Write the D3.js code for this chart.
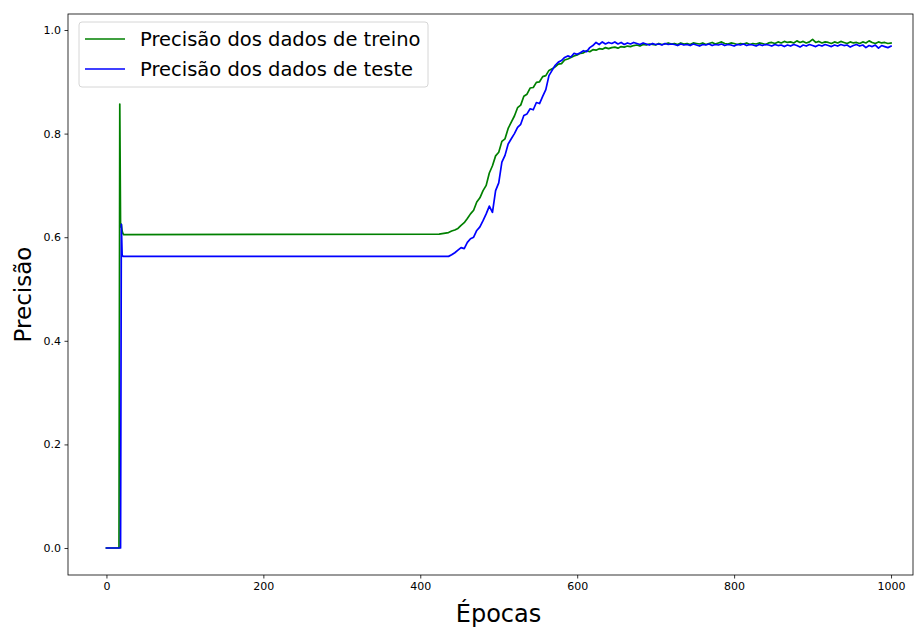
<!DOCTYPE html>
<html>
<head>
<meta charset="utf-8">
<script src="https://cdn.jsdelivr.net/npm/d3@7"></script>
<style>
  body { margin: 0; background: #fff; }
  svg { display: block; }
  text { font-family: "DejaVu Sans", sans-serif; }
</style>
</head>
<body>
<svg id="chart" width="917" height="628"></svg>
<script>
// Accuracy per epoch. The early part is sparse (the curves are flat there),
// the later part is sampled every 4 epochs from 428 to 1000.
const earlyEpochs = [0, 16, 17, 18, 19, 20, 21, 22, 424];
const earlyTrain  = [0, 0, 0.857, 0.620, 0.625, 0.612, 0.607, 0.605, 0.606];
const earlyTest   = [0, 0, 0, 0, 0.625, 0.566, 0.563, 0.563, 0.563];

const lateStart = 428, lateStep = 4;
const lateTrain = [
  0.607, 0.608, 0.609, 0.612, 0.614, 0.617, 0.623, 0.628, 0.636, 0.645,
  0.652, 0.668, 0.676, 0.690, 0.700, 0.724, 0.738, 0.757, 0.764, 0.785,
  0.790, 0.810, 0.822, 0.834, 0.850, 0.855, 0.872, 0.876, 0.888, 0.889,
  0.899, 0.900, 0.910, 0.912, 0.922, 0.925, 0.929, 0.934, 0.935, 0.942,
  0.944, 0.947, 0.950, 0.952, 0.955, 0.956, 0.960, 0.958, 0.962, 0.961,
  0.964, 0.963, 0.966, 0.964, 0.966, 0.967, 0.965, 0.968, 0.967, 0.969,
  0.968, 0.970, 0.971, 0.969, 0.972, 0.971, 0.973, 0.972, 0.971, 0.974,
  0.972, 0.973, 0.975, 0.973,
  0.974, 0.972, 0.975, 0.973, 0.974, 0.972, 0.975, 0.974, 0.973, 0.975,
  0.972, 0.974, 0.976, 0.973, 0.975, 0.977, 0.974, 0.973, 0.975, 0.974,
  0.972, 0.974, 0.973, 0.975, 0.972, 0.974, 0.973, 0.975, 0.974, 0.972,
  0.975, 0.976, 0.974, 0.977, 0.975, 0.978, 0.976, 0.977, 0.975, 0.979,
  0.976, 0.978, 0.975, 0.977, 0.982, 0.976, 0.978, 0.975, 0.977, 0.976,
  0.974, 0.977, 0.975, 0.978, 0.976, 0.974, 0.977, 0.975, 0.976, 0.974,
  0.977, 0.975, 0.979, 0.976, 0.974, 0.977, 0.975, 0.976, 0.974, 0.975
];
const lateTest = [
  0.563, 0.563, 0.563, 0.566, 0.570, 0.575, 0.580, 0.578, 0.590, 0.597,
  0.600, 0.613, 0.620, 0.632, 0.645, 0.660, 0.648, 0.690, 0.705, 0.745,
  0.758, 0.780, 0.790, 0.800, 0.812, 0.818, 0.835, 0.838, 0.848, 0.846,
  0.860, 0.858, 0.872, 0.885, 0.912, 0.922, 0.932, 0.938, 0.941, 0.947,
  0.950, 0.948, 0.955, 0.953, 0.956, 0.960, 0.958, 0.966, 0.970, 0.976,
  0.972, 0.977, 0.973, 0.976, 0.974, 0.977, 0.973, 0.976, 0.972, 0.975,
  0.973, 0.976, 0.974, 0.972, 0.975, 0.973, 0.971, 0.974, 0.972, 0.973,
  0.971, 0.974, 0.972, 0.973,
  0.972, 0.970, 0.973, 0.971, 0.972, 0.970, 0.973, 0.971, 0.969, 0.972,
  0.971, 0.973, 0.970, 0.972, 0.971, 0.973, 0.970, 0.972, 0.971, 0.969,
  0.972, 0.971, 0.973, 0.970, 0.972, 0.971, 0.969, 0.972, 0.970, 0.972,
  0.971, 0.969, 0.972, 0.970, 0.971, 0.968, 0.971, 0.969, 0.972, 0.970,
  0.967, 0.971, 0.969, 0.972, 0.970, 0.968, 0.971, 0.969, 0.972, 0.970,
  0.968, 0.971, 0.969, 0.972, 0.970, 0.971, 0.967, 0.970, 0.972, 0.969,
  0.971, 0.966, 0.970, 0.968, 0.971, 0.965, 0.970, 0.968, 0.966, 0.969
];

const xTicks = [0, 200, 400, 600, 800, 1000];
const yTicks = [0.0, 0.2, 0.4, 0.6, 0.8, 1.0];
const seriesNames = ["Precisão dos dados de treino", "Precisão dos dados de teste"];
const seriesColors = ["#008000", "#0000ff"];
const xLabel = "Épocas";
const yLabel = "Precisão";

// Build [epoch, value] rows for both series.
const lateEpochs = lateTrain.map((_, i) => lateStart + i * lateStep);
const epochs = earlyEpochs.concat(lateEpochs);
const trainRows = epochs.map((e, i) => [e, earlyTrain.concat(lateTrain)[i]]);
const testRows  = epochs.map((e, i) => [e, earlyTest.concat(lateTest)[i]]);

// Plot frame
const frame = { left: 68, right: 913, top: 14, bottom: 575 };
const x = d3.scaleLinear().domain([-49, 1028]).range([frame.left, frame.right]);
const y = d3.scaleLinear().domain([-0.0521, 1.0309]).range([frame.bottom, frame.top]);

const svg = d3.select("#chart");

svg.append("defs").append("clipPath").attr("id", "plot-clip")
  .append("rect")
  .attr("x", frame.left).attr("y", frame.top)
  .attr("width", frame.right - frame.left).attr("height", frame.bottom - frame.top);

// Axes
const xAxis = svg.append("g")
  .attr("transform", `translate(0,${frame.bottom})`)
  .call(d3.axisBottom(x).tickValues(xTicks).tickFormat(d3.format("d"))
    .tickSize(3.5).tickPadding(3.5));
const yAxis = svg.append("g")
  .attr("transform", `translate(${frame.left},0)`)
  .call(d3.axisLeft(y).tickValues(yTicks).tickFormat(d3.format(".1f"))
    .tickSize(3.5).tickPadding(3.5));
[xAxis, yAxis].forEach(g => {
  g.select(".domain").remove();
  g.selectAll(".tick line").attr("stroke", "#000").attr("stroke-width", 0.8);
  g.selectAll(".tick text").attr("fill", "#000").style("font-size", "11px");
});

// Curves
const line = d3.line().x(d => x(d[0])).y(d => y(d[1]));
const plot = svg.append("g").attr("clip-path", "url(#plot-clip)");
[trainRows, testRows].forEach((rows, i) => {
  plot.append("path")
    .datum(rows)
    .attr("d", line)
    .attr("fill", "none")
    .attr("stroke", seriesColors[i])
    .attr("stroke-width", 1.7)
    .attr("stroke-linejoin", "round")
    .attr("stroke-linecap", "square");
});

// Frame border
svg.append("rect")
  .attr("x", frame.left).attr("y", frame.top)
  .attr("width", frame.right - frame.left).attr("height", frame.bottom - frame.top)
  .attr("fill", "none").attr("stroke", "#000").attr("stroke-width", 0.8);

// Axis titles
svg.append("text")
  .attr("x", (frame.left + 929) / 2).attr("y", 622)
  .attr("text-anchor", "middle")
  .style("font-size", "24px")
  .text(xLabel);
svg.append("text")
  .attr("transform", `translate(31,${(frame.top + frame.bottom) / 2}) rotate(-90)`)
  .attr("text-anchor", "middle")
  .style("font-size", "23px")
  .text(yLabel);

// Legend
const legend = svg.append("g");
legend.append("rect")
  .attr("x", 79).attr("y", 22).attr("width", 349).attr("height", 65)
  .attr("rx", 3)
  .attr("fill", "#fff").attr("fill-opacity", 0.8)
  .attr("stroke", "#d6d6d6").attr("stroke-width", 1);
seriesNames.forEach((name, i) => {
  const cy = 39 + i * 30;
  legend.append("line")
    .attr("x1", 85).attr("x2", 125).attr("y1", cy).attr("y2", cy)
    .attr("stroke", seriesColors[i]).attr("stroke-width", 1.5);
  legend.append("text")
    .attr("x", 140).attr("y", cy)
    .attr("dominant-baseline", "central")
    .style("font-size", "19.5px")
    .attr("fill", "#000")
    .text(name);
});
</script>
</body>
</html>
